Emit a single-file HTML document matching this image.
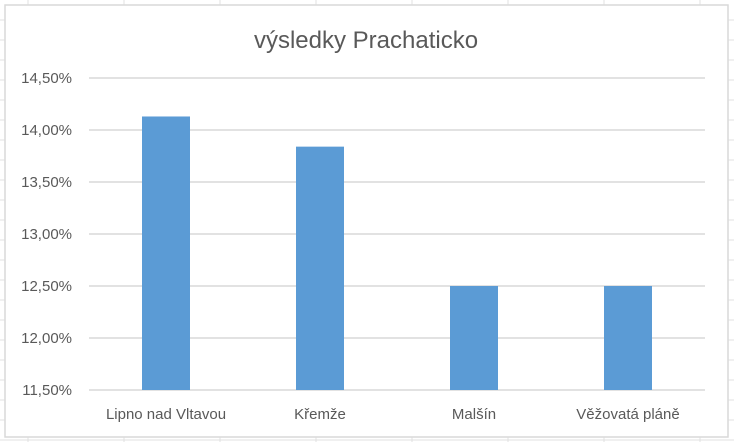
<!DOCTYPE html>
<html><head><meta charset="utf-8"><style>
html,body{margin:0;padding:0;background:#fff;}
body{width:734px;height:442px;overflow:hidden;font-family:"Liberation Sans",sans-serif;}
</style></head><body>
<svg width="734" height="442" xmlns="http://www.w3.org/2000/svg">
<g id="sheet"></g>
<rect x="5" y="5" width="723" height="432" fill="#fff" stroke="#d9d9d9" stroke-width="1.5"/>
<text x="366" y="48" text-anchor="middle" font-size="24" fill="#595959">výsledky Prachaticko</text>
<g id="grid"></g><g id="bars"></g><g id="labels"></g>
</svg>
<script>
const categories=["Lipno nad Vltavou","Křemže","Malšín","Věžovatá pláně"];
const values=[14.13,13.84,12.5,12.5];
const ticks=[11.5,12,12.5,13,13.5,14,14.5];
const tickLabels=["11,50%","12,00%","12,50%","13,00%","13,50%","14,00%","14,50%"];
const NS="http://www.w3.org/2000/svg";
const x0=89,x1=705,yMin=11.5,yMax=14.5,yb=390,yt=78;
const y=v=>yb-(v-yMin)/(yMax-yMin)*(yb-yt);
const band=(x1-x0)/categories.length;
function mk(t,a,p){const e=document.createElementNS(NS,t);for(const k in a)e.setAttribute(k,a[k]);p.appendChild(e);return e;}
const sh=document.getElementById('sheet');
for(let gx=28;gx<734;gx+=96){mk('line',{x1:gx,y1:0,x2:gx,y2:442,stroke:'#e0e0e0'},sh);}
for(let gy=20;gy<442;gy+=20){mk('line',{x1:0,y1:gy,x2:734,y2:gy,stroke:'#e0e0e0'},sh);}
const g=document.getElementById('grid');
ticks.forEach((t,i)=>{
 const l=mk('line',{x1:x0,y1:y(t),x2:x1,y2:y(t),stroke:'#d9d9d9','stroke-width':1.5},g);
 
 
 const tx=mk('text',{x:72,y:y(t)+5,'text-anchor':'end','font-size':15,fill:'#595959'},g);
 tx.textContent=tickLabels[i];
 
 
});
const b=document.getElementById('bars'),lb=document.getElementById('labels');
categories.forEach((c,i)=>{
 const cx=x0+band*(i+0.5),w=48;
 const r=mk('rect',{x:cx-w/2,y:y(values[i]),width:w,height:yb-y(values[i]),fill:'#5b9bd5'},b);
 
 
 const t=mk('text',{x:cx,y:419,'text-anchor':'middle','font-size':15,fill:'#595959'},lb);
 t.textContent=c;
 
 
});
</script>
</body></html>
